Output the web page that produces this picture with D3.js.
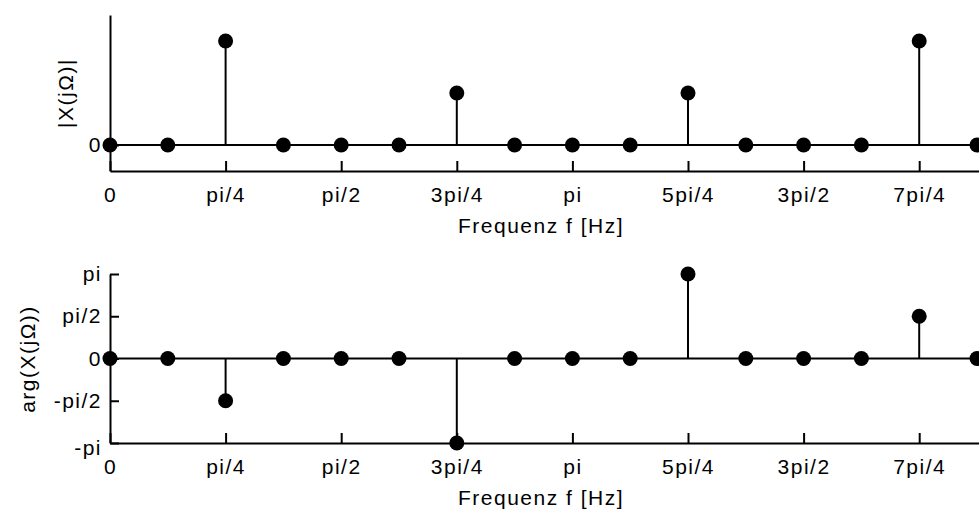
<!DOCTYPE html>
<html>
<head>
<meta charset="utf-8">
<script src="https://cdn.jsdelivr.net/npm/d3@7"></script>
<style>
  body { margin: 0; background: #fff; }
  svg { display: block; }
  text { font-family: "Liberation Sans", Arial, sans-serif; font-size: 21px; letter-spacing: 1.5px; fill: #000; }
</style>
</head>
<body>
<svg id="chart" width="979" height="513"></svg>
<script>
// frequencies in units of pi (k * pi/8)
var omega = [0, 0.125, 0.25, 0.375, 0.5, 0.625, 0.75, 0.875, 1, 1.125, 1.25, 1.375, 1.5, 1.625, 1.75, 1.875];
// |X(jW)|
var magnitude = [0, 0, 1, 0, 0, 0, 0.5, 0, 0, 0, 0.5, 0, 0, 0, 1, 0];
// arg(X(jW)) in units of pi
var phase = [0, 0, -0.5, 0, 0, 0, -1, 0, 0, 0, 1, 0, 0, 0, 0.5, 0];

var xTickValues = [0, 0.25, 0.5, 0.75, 1, 1.25, 1.5, 1.75];
var xTickLabels = ["0", "pi/4", "pi/2", "3pi/4", "pi", "5pi/4", "3pi/2", "7pi/4"];
var phaseTickValues = [-1, -0.5, 0, 0.5, 1];
var phaseTickLabels = ["-pi", "-pi/2", "0", "pi/2", "pi"];

var svg = d3.select("#chart");

var x = d3.scaleLinear().domain([0, 2]).range([110, 110 + 867 * 16 / 15]);

function styleAxis(g) {
  g.attr("font-family", null).attr("font-size", null);
  g.select(".domain").attr("stroke", "#000").attr("stroke-width", 2);
  g.selectAll(".tick line").attr("stroke", "#000").attr("stroke-width", 2);
}

// draws one stem panel
function drawPanel(values, y, yTicks, yLabels, yTitle, titleX, titleY) {
  var panel = svg.append("g");
  var bottom = y.range()[0];

  panel.append("g")
    .attr("transform", "translate(0," + bottom + ")")
    .call(d3.axisBottom(x).tickValues(xTickValues)
      .tickFormat(function(d, i){ return xTickLabels[i]; })
      .tickSize(-10).tickSizeOuter(0).tickPadding(16))
    .call(styleAxis);

  var yAxis = panel.append("g")
    .attr("transform", "translate(" + x(0) + ",0)")
    .call(d3.axisLeft(y).tickValues(yTicks)
      .tickFormat(function(d, i){ return yLabels[i]; })
      .tickSize(-9).tickSizeOuter(0).tickPadding(8))
    .call(styleAxis);
  // lowest label sits a little below the axis corner, as in the original
  yAxis.selectAll(".tick text").filter(function(d){ return d === -1; })
    .attr("dy", "0.55em");

  // baseline
  panel.append("line")
    .attr("x1", x(0)).attr("x2", x(2))
    .attr("y1", y(0)).attr("y2", y(0))
    .attr("stroke", "#000").attr("stroke-width", 2);

  // stems
  panel.selectAll(".stem").data(values).enter()
    .append("line")
    .attr("class", "stem")
    .attr("x1", function(d, i){ return x(omega[i]); })
    .attr("x2", function(d, i){ return x(omega[i]); })
    .attr("y1", y(0))
    .attr("y2", function(d){ return y(d); })
    .attr("stroke", "#000").attr("stroke-width", 2);

  // markers
  panel.selectAll(".dot").data(values).enter()
    .append("circle")
    .attr("class", "dot")
    .attr("cx", function(d, i){ return x(omega[i]); })
    .attr("cy", function(d){ return y(d); })
    .attr("r", 7.5)
    .attr("fill", "#000");

  // axis titles
  panel.append("text")
    .attr("x", 541).attr("y", bottom + 62)
    .attr("text-anchor", "middle")
    .text("Frequenz f [Hz]");

  panel.append("text")
    .attr("transform", "translate(" + titleX + "," + titleY + ") rotate(-90)")
    .attr("text-anchor", "middle")
    .text(yTitle);
}

var yMag = d3.scaleLinear().domain([-0.25, 1.25]).range([171, 15]);
var yPhase = d3.scaleLinear().domain([-1, 1]).range([443, 274]);

drawPanel(magnitude, yMag, [0], ["0"], "|X(j\u03A9)|", 73, 93);
drawPanel(phase, yPhase, phaseTickValues, phaseTickLabels, "arg(X(j\u03A9))", 35, 359);
</script>
</body>
</html>
